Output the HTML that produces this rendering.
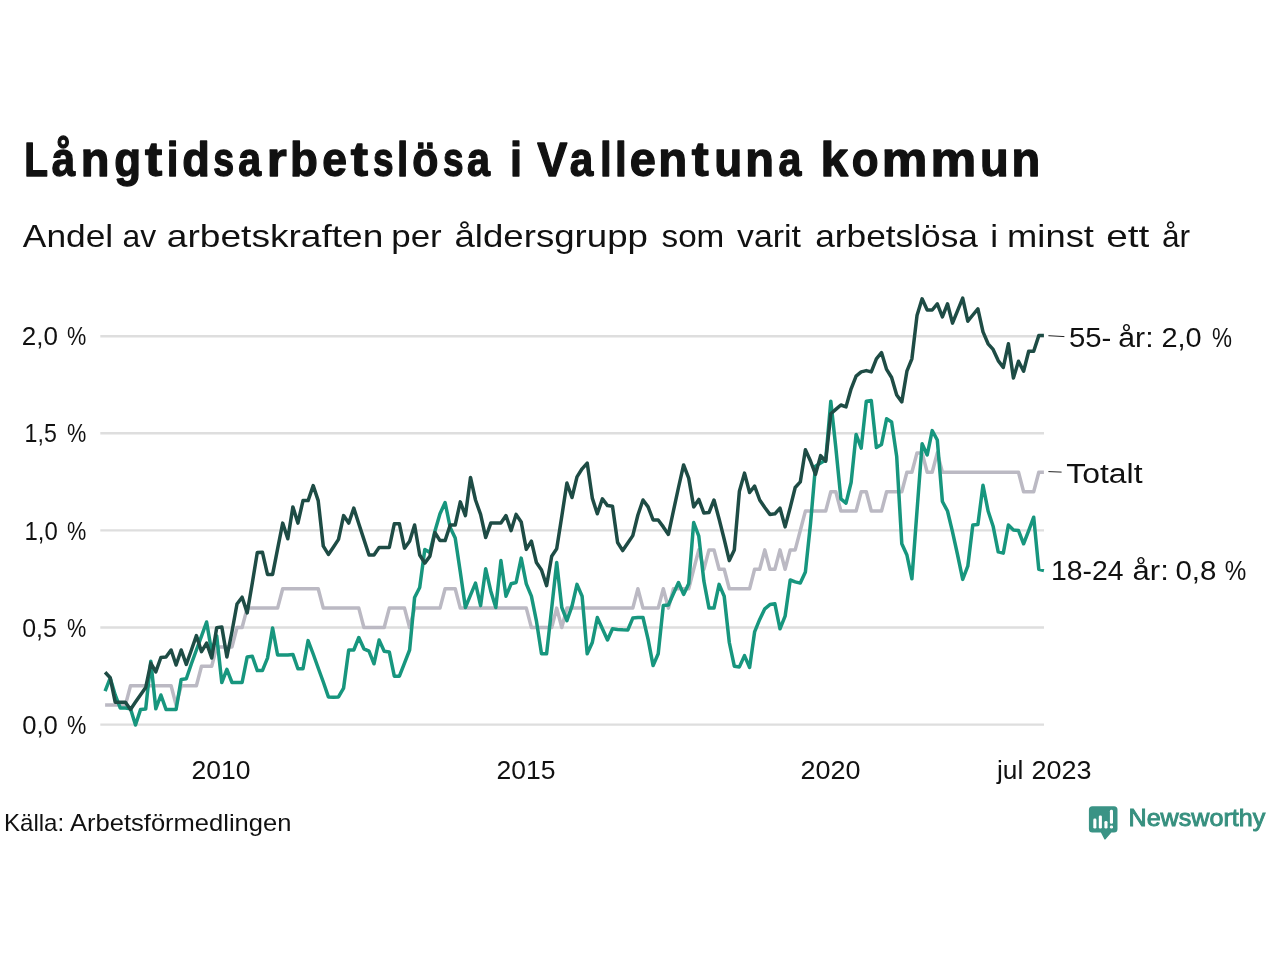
<!DOCTYPE html>
<html><head><meta charset="utf-8"><title>Chart</title>
<style>
html,body{margin:0;padding:0;background:#fff;}
body{width:1280px;height:960px;overflow:hidden;font-family:"Liberation Sans",sans-serif;}
svg{display:block;position:absolute;left:0;top:0;}
svg.t{will-change:transform;}
text{font-family:"Liberation Sans",sans-serif;fill:#111111;}
</style></head><body>
<svg width="1280" height="960" viewBox="0 0 1280 960">
<rect width="1280" height="960" fill="#ffffff"/>
<line x1="100.3" x2="1044" y1="336.3" y2="336.3" stroke="#dedede" stroke-width="2.4"/>
<line x1="100.3" x2="1044" y1="433.3" y2="433.3" stroke="#dedede" stroke-width="2.4"/>
<line x1="100.3" x2="1044" y1="530.4" y2="530.4" stroke="#dedede" stroke-width="2.4"/>
<line x1="100.3" x2="1044" y1="627.5" y2="627.5" stroke="#dedede" stroke-width="2.4"/>
<line x1="100.3" x2="1044" y1="724.6" y2="724.6" stroke="#dedede" stroke-width="2.4"/>
<path d="M105.1,705.1 L110.2,705.1 L115.2,705.1 L120.3,705.1 L125.4,705.1 L130.5,685.7 L135.5,685.7 L140.6,685.7 L145.7,685.7 L150.8,685.7 L155.8,685.7 L160.9,685.7 L166.0,685.7 L171.1,685.7 L176.1,705.1 L181.2,685.7 L186.3,685.7 L191.4,685.7 L196.4,685.7 L201.5,666.3 L206.6,666.3 L211.7,666.3 L216.7,646.9 L221.8,646.9 L226.9,646.9 L232.0,646.9 L237.0,627.5 L242.1,627.5 L247.2,608.1 L252.3,608.1 L257.3,608.1 L262.4,608.1 L267.5,608.1 L272.6,608.1 L277.6,608.1 L282.7,588.7 L287.8,588.7 L292.9,588.7 L297.9,588.7 L303.0,588.7 L308.1,588.7 L313.2,588.7 L318.2,588.7 L323.3,608.1 L328.4,608.1 L333.5,608.1 L338.5,608.1 L343.6,608.1 L348.7,608.1 L353.8,608.1 L358.8,608.1 L363.9,627.5 L369.0,627.5 L374.0,627.5 L379.1,627.5 L384.2,627.5 L389.3,608.1 L394.3,608.1 L399.4,608.1 L404.5,608.1 L409.6,627.5 L414.6,608.1 L419.7,608.1 L424.8,608.1 L429.9,608.1 L434.9,608.1 L440.0,608.1 L445.1,588.7 L450.2,588.7 L455.2,588.7 L460.3,608.1 L465.4,608.1 L470.5,608.1 L475.5,608.1 L480.6,608.1 L485.7,608.1 L490.8,608.1 L495.8,608.1 L500.9,608.1 L506.0,608.1 L511.1,608.1 L516.1,608.1 L521.2,608.1 L526.3,608.1 L531.4,627.5 L536.4,627.5 L541.5,627.5 L546.6,627.5 L551.7,627.5 L556.7,608.1 L561.8,627.5 L566.9,608.1 L572.0,608.1 L577.0,608.1 L582.1,608.1 L587.2,608.1 L592.3,608.1 L597.3,608.1 L602.4,608.1 L607.5,608.1 L612.5,608.1 L617.6,608.1 L622.7,608.1 L627.8,608.1 L632.8,608.1 L637.9,588.7 L643.0,608.1 L648.1,608.1 L653.1,608.1 L658.2,608.1 L663.3,588.7 L668.4,608.1 L673.4,588.7 L678.5,588.7 L683.6,588.7 L688.7,588.7 L693.7,569.3 L698.8,549.9 L703.9,569.3 L709.0,549.9 L714.0,549.9 L719.1,569.3 L724.2,569.3 L729.3,588.7 L734.3,588.7 L739.4,588.7 L744.5,588.7 L749.6,588.7 L754.6,569.3 L759.7,569.3 L764.8,549.9 L769.9,569.3 L774.9,569.3 L780.0,549.9 L785.1,569.3 L790.2,549.9 L795.2,549.9 L800.3,530.5 L805.4,511.1 L810.5,511.1 L815.5,511.1 L820.6,511.1 L825.7,511.1 L830.8,491.7 L835.8,491.7 L840.9,511.1 L846.0,511.1 L851.1,511.1 L856.1,511.1 L861.2,491.7 L866.3,491.7 L871.3,511.1 L876.4,511.1 L881.5,511.1 L886.6,491.7 L891.6,491.7 L896.7,491.7 L901.8,491.7 L906.9,472.3 L911.9,472.3 L917.0,452.9 L922.1,452.9 L927.2,472.3 L932.2,472.3 L937.3,452.9 L942.4,472.3 L947.5,472.3 L952.5,472.3 L957.6,472.3 L962.7,472.3 L967.8,472.3 L972.8,472.3 L977.9,472.3 L983.0,472.3 L988.1,472.3 L993.1,472.3 L998.2,472.3 L1003.3,472.3 L1008.4,472.3 L1013.4,472.3 L1018.5,472.3 L1023.6,491.7 L1028.7,491.7 L1033.7,491.7 L1038.8,472.3 L1043.9,472.3" fill="none" stroke="#bbb9c3" stroke-width="3.5" stroke-linejoin="round" stroke-linecap="butt"/>
<path d="M105.1,691.2 L110.2,678.1 L115.2,695.0 L120.3,708.1 L125.4,708.1 L130.5,708.8 L135.5,725.0 L140.6,709.4 L145.7,709.0 L150.8,661.2 L155.8,708.8 L160.9,695.0 L166.0,709.4 L171.1,709.4 L176.1,709.4 L181.2,679.4 L186.3,678.8 L191.4,663.8 L196.4,650.0 L201.5,636.2 L206.6,622.0 L211.7,652.0 L216.7,636.0 L221.8,682.5 L226.9,669.4 L232.0,682.5 L237.0,682.5 L242.1,682.5 L247.2,656.9 L252.3,656.2 L257.3,670.6 L262.4,670.6 L267.5,658.1 L272.6,628.1 L277.6,655.0 L282.7,655.0 L287.8,655.0 L292.9,654.4 L297.9,668.8 L303.0,668.8 L308.1,640.6 L313.2,654.0 L318.2,668.0 L323.3,682.0 L328.4,696.9 L333.5,697.2 L338.5,696.9 L343.6,688.1 L348.7,650.0 L353.8,650.0 L358.8,637.5 L363.9,648.8 L369.0,651.2 L374.0,663.8 L379.1,640.0 L384.2,651.2 L389.3,651.9 L394.3,676.2 L399.4,676.2 L404.5,663.1 L409.6,650.0 L414.6,597.5 L419.7,587.5 L424.8,549.4 L429.9,552.5 L434.9,531.2 L440.0,513.8 L445.1,502.5 L450.2,527.5 L455.2,538.1 L460.3,572.0 L465.4,607.5 L470.5,595.2 L475.5,583.1 L480.6,605.6 L485.7,568.8 L490.8,591.2 L495.8,607.5 L500.9,560.6 L506.0,596.2 L511.1,583.8 L516.1,582.5 L521.2,558.1 L526.3,583.8 L531.4,596.2 L536.4,620.8 L541.5,653.8 L546.6,653.8 L551.7,608.1 L556.7,562.5 L561.8,607.5 L566.9,620.6 L572.0,606.2 L577.0,584.4 L582.1,596.2 L587.2,653.8 L592.3,642.5 L597.3,617.5 L602.4,628.8 L607.5,640.0 L612.5,628.8 L617.6,629.4 L622.7,629.8 L627.8,630.0 L632.8,618.1 L637.9,617.5 L643.0,617.5 L648.1,639.4 L653.1,665.6 L658.2,653.8 L663.3,605.6 L668.4,605.0 L673.4,593.8 L678.5,582.5 L683.6,594.4 L688.7,583.8 L693.7,522.5 L698.8,536.2 L703.9,581.2 L709.0,608.1 L714.0,608.1 L719.1,584.4 L724.2,596.2 L729.3,642.5 L734.3,666.2 L739.4,666.9 L744.5,655.6 L749.6,667.5 L754.6,631.9 L759.7,619.4 L764.8,608.8 L769.9,604.6 L774.9,603.8 L780.0,628.8 L785.1,616.2 L790.2,580.0 L795.2,581.9 L800.3,583.1 L805.4,571.9 L810.5,523.8 L815.5,466.2 L820.6,463.1 L825.7,460.0 L830.8,401.2 L835.8,447.5 L840.9,498.8 L846.0,503.1 L851.1,482.5 L856.1,434.4 L861.2,448.1 L866.3,401.2 L871.3,400.6 L876.4,447.5 L881.5,444.4 L886.6,418.8 L891.6,421.9 L896.7,456.5 L901.8,543.8 L906.9,555.0 L911.9,578.8 L917.0,511.0 L922.1,443.8 L927.2,455.0 L932.2,430.6 L937.3,440.0 L942.4,501.5 L947.5,511.0 L952.5,531.9 L957.6,555.0 L962.7,579.4 L967.8,566.2 L972.8,525.0 L977.9,524.4 L983.0,485.3 L988.1,511.0 L993.1,526.2 L998.2,551.9 L1003.3,553.1 L1008.4,525.0 L1013.4,530.0 L1018.5,530.6 L1023.6,543.8 L1028.7,530.6 L1033.7,517.2 L1038.8,569.4 L1043.9,570.6" fill="none" stroke="#17967e" stroke-width="3.5" stroke-linejoin="round" stroke-linecap="butt"/>
<path d="M105.1,672.2 L110.2,677.8 L115.2,702.2 L120.3,702.2 L125.4,702.2 L130.5,709.4 L135.5,702.1 L140.6,694.8 L145.7,687.5 L150.8,663.1 L155.8,671.9 L160.9,657.5 L166.0,657.1 L171.1,650.0 L176.1,665.0 L181.2,650.0 L186.3,664.4 L191.4,650.0 L196.4,635.6 L201.5,651.7 L206.6,643.1 L211.7,658.0 L216.7,627.8 L221.8,626.9 L226.9,657.0 L232.0,631.5 L237.0,604.0 L242.1,597.2 L247.2,612.9 L252.3,583.0 L257.3,552.5 L262.4,552.2 L267.5,574.4 L272.6,574.4 L277.6,548.8 L282.7,523.1 L287.8,538.8 L292.9,506.9 L297.9,523.1 L303.0,500.6 L308.1,500.6 L313.2,485.6 L318.2,500.6 L323.3,546.2 L328.4,554.4 L333.5,546.9 L338.5,539.4 L343.6,515.6 L348.7,523.1 L353.8,508.1 L358.8,523.8 L363.9,539.4 L369.0,555.0 L374.0,555.0 L379.1,547.5 L384.2,547.5 L389.3,547.5 L394.3,523.8 L399.4,523.8 L404.5,548.1 L409.6,541.2 L414.6,525.0 L419.7,555.0 L424.8,563.1 L429.9,556.2 L434.9,532.5 L440.0,540.6 L445.1,540.6 L450.2,525.0 L455.2,525.0 L460.3,501.9 L465.4,515.6 L470.5,477.5 L475.5,500.0 L480.6,514.4 L485.7,537.5 L490.8,523.1 L495.8,523.1 L500.9,523.1 L506.0,515.6 L511.1,530.6 L516.1,514.4 L521.2,521.9 L526.3,549.4 L531.4,541.2 L536.4,562.5 L541.5,570.0 L546.6,585.6 L551.7,556.2 L556.7,548.8 L561.8,516.2 L566.9,483.1 L572.0,497.5 L577.0,476.9 L582.1,468.8 L587.2,463.1 L592.3,498.1 L597.3,513.8 L602.4,498.8 L607.5,505.6 L612.5,506.2 L617.6,542.5 L622.7,550.6 L627.8,543.1 L632.8,535.6 L637.9,515.0 L643.0,500.0 L648.1,506.9 L653.1,520.0 L658.2,520.0 L663.3,526.9 L668.4,534.4 L673.4,511.0 L678.5,487.5 L683.6,465.0 L688.7,478.1 L693.7,506.9 L698.8,499.4 L703.9,513.1 L709.0,512.5 L714.0,500.0 L719.1,519.0 L724.2,539.2 L729.3,560.6 L734.3,550.0 L739.4,491.2 L744.5,473.1 L749.6,492.5 L754.6,486.2 L759.7,500.0 L764.8,507.5 L769.9,514.4 L774.9,513.8 L780.0,508.1 L785.1,526.9 L790.2,507.6 L795.2,487.5 L800.3,481.9 L805.4,449.7 L810.5,461.0 L815.5,474.4 L820.6,455.6 L825.7,461.2 L830.8,413.8 L835.8,409.4 L840.9,405.0 L846.0,406.9 L851.1,388.8 L856.1,376.2 L861.2,371.9 L866.3,370.6 L871.3,371.9 L876.4,358.8 L881.5,352.5 L886.6,369.4 L891.6,377.5 L896.7,395.0 L901.8,401.9 L906.9,371.2 L911.9,358.8 L917.0,315.6 L922.1,298.8 L927.2,310.0 L932.2,310.0 L937.3,303.8 L942.4,316.9 L947.5,303.8 L952.5,323.1 L957.6,310.6 L962.7,298.1 L967.8,321.2 L972.8,315.0 L977.9,308.8 L983.0,331.9 L988.1,343.8 L993.1,349.4 L998.2,360.6 L1003.3,367.5 L1008.4,343.8 L1013.4,378.1 L1018.5,361.2 L1023.6,371.2 L1028.7,351.2 L1033.7,351.2 L1038.8,335.6 L1043.9,335.6" fill="none" stroke="#1e4c45" stroke-width="3.5" stroke-linejoin="round" stroke-linecap="butt"/>
<line x1="1048.4" y1="335.7" x2="1064.4" y2="336.6" stroke="#222" stroke-width="1"/>
<line x1="1048.4" y1="471.6" x2="1061.6" y2="472.1" stroke="#222" stroke-width="1"/>
</svg>
<svg class="t" width="1280" height="960" viewBox="0 0 1280 960">
<g>
<text x="24.20" y="176.4" font-size="47.6" font-weight="bold" stroke="#111111" stroke-width="1.3" stroke-linejoin="round" textLength="23.78" lengthAdjust="spacingAndGlyphs">L</text>
<text x="51.66" y="176.4" font-size="47.6" font-weight="bold" stroke="#111111" stroke-width="1.3" stroke-linejoin="round" textLength="23.47" lengthAdjust="spacingAndGlyphs">å</text>
<text x="80.79" y="176.4" font-size="47.6" font-weight="bold" stroke="#111111" stroke-width="1.3" stroke-linejoin="round" textLength="28.71" lengthAdjust="spacingAndGlyphs">n</text>
<text x="114.13" y="176.4" font-size="47.6" font-weight="bold" stroke="#111111" stroke-width="1.3" stroke-linejoin="round" textLength="26.80" lengthAdjust="spacingAndGlyphs">g</text>
<text x="145.05" y="176.4" font-size="47.6" font-weight="bold" stroke="#111111" stroke-width="1.3" stroke-linejoin="round" textLength="17.24" lengthAdjust="spacingAndGlyphs">t</text>
<text x="166.74" y="176.4" font-size="47.6" font-weight="bold" stroke="#111111" stroke-width="1.3" stroke-linejoin="round" textLength="11.71" lengthAdjust="spacingAndGlyphs">i</text>
<text x="182.20" y="176.4" font-size="47.6" font-weight="bold" stroke="#111111" stroke-width="1.3" stroke-linejoin="round" textLength="27.56" lengthAdjust="spacingAndGlyphs">d</text>
<text x="213.36" y="176.4" font-size="47.6" font-weight="bold" stroke="#111111" stroke-width="1.3" stroke-linejoin="round" textLength="20.90" lengthAdjust="spacingAndGlyphs">s</text>
<text x="238.29" y="176.4" font-size="47.6" font-weight="bold" stroke="#111111" stroke-width="1.3" stroke-linejoin="round" textLength="22.86" lengthAdjust="spacingAndGlyphs">a</text>
<text x="266.81" y="176.4" font-size="47.6" font-weight="bold" stroke="#111111" stroke-width="1.3" stroke-linejoin="round" textLength="20.00" lengthAdjust="spacingAndGlyphs">r</text>
<text x="290.03" y="176.4" font-size="47.6" font-weight="bold" stroke="#111111" stroke-width="1.3" stroke-linejoin="round" textLength="27.85" lengthAdjust="spacingAndGlyphs">b</text>
<text x="322.21" y="176.4" font-size="47.6" font-weight="bold" stroke="#111111" stroke-width="1.3" stroke-linejoin="round" textLength="24.76" lengthAdjust="spacingAndGlyphs">e</text>
<text x="350.65" y="176.4" font-size="47.6" font-weight="bold" stroke="#111111" stroke-width="1.3" stroke-linejoin="round" textLength="17.29" lengthAdjust="spacingAndGlyphs">t</text>
<text x="372.97" y="176.4" font-size="47.6" font-weight="bold" stroke="#111111" stroke-width="1.3" stroke-linejoin="round" textLength="20.62" lengthAdjust="spacingAndGlyphs">s</text>
<text x="397.10" y="176.4" font-size="47.6" font-weight="bold" stroke="#111111" stroke-width="1.3" stroke-linejoin="round" textLength="11.24" lengthAdjust="spacingAndGlyphs">l</text>
<text x="412.25" y="176.4" font-size="47.6" font-weight="bold" stroke="#111111" stroke-width="1.3" stroke-linejoin="round" textLength="26.16" lengthAdjust="spacingAndGlyphs">ö</text>
<text x="442.97" y="176.4" font-size="47.6" font-weight="bold" stroke="#111111" stroke-width="1.3" stroke-linejoin="round" textLength="20.62" lengthAdjust="spacingAndGlyphs">s</text>
<text x="467.08" y="176.4" font-size="47.6" font-weight="bold" stroke="#111111" stroke-width="1.3" stroke-linejoin="round" textLength="23.01" lengthAdjust="spacingAndGlyphs">a</text>
<text x="509.88" y="176.4" font-size="47.6" font-weight="bold" stroke="#111111" stroke-width="1.3" stroke-linejoin="round" textLength="12.00" lengthAdjust="spacingAndGlyphs">i</text>
<text x="537.15" y="176.4" font-size="47.6" font-weight="bold" stroke="#111111" stroke-width="1.3" stroke-linejoin="round" textLength="30.06" lengthAdjust="spacingAndGlyphs">V</text>
<text x="569.76" y="176.4" font-size="47.6" font-weight="bold" stroke="#111111" stroke-width="1.3" stroke-linejoin="round" textLength="23.52" lengthAdjust="spacingAndGlyphs">a</text>
<text x="599.89" y="176.4" font-size="47.6" font-weight="bold" stroke="#111111" stroke-width="1.3" stroke-linejoin="round" textLength="11.71" lengthAdjust="spacingAndGlyphs">l</text>
<text x="614.89" y="176.4" font-size="47.6" font-weight="bold" stroke="#111111" stroke-width="1.3" stroke-linejoin="round" textLength="11.71" lengthAdjust="spacingAndGlyphs">l</text>
<text x="629.66" y="176.4" font-size="47.6" font-weight="bold" stroke="#111111" stroke-width="1.3" stroke-linejoin="round" textLength="26.14" lengthAdjust="spacingAndGlyphs">e</text>
<text x="658.26" y="176.4" font-size="47.6" font-weight="bold" stroke="#111111" stroke-width="1.3" stroke-linejoin="round" textLength="28.95" lengthAdjust="spacingAndGlyphs">n</text>
<text x="691.65" y="176.4" font-size="47.6" font-weight="bold" stroke="#111111" stroke-width="1.3" stroke-linejoin="round" textLength="16.94" lengthAdjust="spacingAndGlyphs">t</text>
<text x="714.33" y="176.4" font-size="47.6" font-weight="bold" stroke="#111111" stroke-width="1.3" stroke-linejoin="round" textLength="27.98" lengthAdjust="spacingAndGlyphs">u</text>
<text x="745.19" y="176.4" font-size="47.6" font-weight="bold" stroke="#111111" stroke-width="1.3" stroke-linejoin="round" textLength="28.71" lengthAdjust="spacingAndGlyphs">n</text>
<text x="778.54" y="176.4" font-size="47.6" font-weight="bold" stroke="#111111" stroke-width="1.3" stroke-linejoin="round" textLength="22.86" lengthAdjust="spacingAndGlyphs">a</text>
<text x="820.62" y="176.4" font-size="47.6" font-weight="bold" stroke="#111111" stroke-width="1.3" stroke-linejoin="round" textLength="27.57" lengthAdjust="spacingAndGlyphs">k</text>
<text x="851.63" y="176.4" font-size="47.6" font-weight="bold" stroke="#111111" stroke-width="1.3" stroke-linejoin="round" textLength="26.81" lengthAdjust="spacingAndGlyphs">o</text>
<text x="881.81" y="176.4" font-size="47.6" font-weight="bold" stroke="#111111" stroke-width="1.3" stroke-linejoin="round" textLength="45.64" lengthAdjust="spacingAndGlyphs">m</text>
<text x="930.51" y="176.4" font-size="47.6" font-weight="bold" stroke="#111111" stroke-width="1.3" stroke-linejoin="round" textLength="45.75" lengthAdjust="spacingAndGlyphs">m</text>
<text x="979.92" y="176.4" font-size="47.6" font-weight="bold" stroke="#111111" stroke-width="1.3" stroke-linejoin="round" textLength="28.71" lengthAdjust="spacingAndGlyphs">u</text>
<text x="1011.44" y="176.4" font-size="47.6" font-weight="bold" stroke="#111111" stroke-width="1.3" stroke-linejoin="round" textLength="28.71" lengthAdjust="spacingAndGlyphs">n</text>
<text x="22.80" y="247" font-size="32" textLength="90.43" lengthAdjust="spacingAndGlyphs">Andel</text>
<text x="122.61" y="247" font-size="32" textLength="33.59" lengthAdjust="spacingAndGlyphs">av</text>
<text x="166.84" y="247" font-size="32" textLength="216.54" lengthAdjust="spacingAndGlyphs">arbetskraften</text>
<text x="391.22" y="247" font-size="32" textLength="50.51" lengthAdjust="spacingAndGlyphs">per</text>
<text x="454.46" y="247" font-size="32" textLength="193.46" lengthAdjust="spacingAndGlyphs">åldersgrupp</text>
<text x="661.50" y="247" font-size="32" textLength="62.82" lengthAdjust="spacingAndGlyphs">som</text>
<text x="737.00" y="247" font-size="32" textLength="63.78" lengthAdjust="spacingAndGlyphs">varit</text>
<text x="815.20" y="247" font-size="32" textLength="162.78" lengthAdjust="spacingAndGlyphs">arbetslösa</text>
<text x="990.30" y="247" font-size="32" textLength="7.82" lengthAdjust="spacingAndGlyphs">i</text>
<text x="1007.13" y="247" font-size="32" textLength="86.75" lengthAdjust="spacingAndGlyphs">minst</text>
<text x="1106.29" y="247" font-size="32" textLength="43.08" lengthAdjust="spacingAndGlyphs">ett</text>
<text x="1162.01" y="247" font-size="32" textLength="28.15" lengthAdjust="spacingAndGlyphs">år</text>
<text x="21.74" y="345.40000000000003" font-size="25.8" textLength="36.11" lengthAdjust="spacingAndGlyphs">2,0</text>
<text x="66.90" y="345.40000000000003" font-size="25.8" textLength="19.30" lengthAdjust="spacingAndGlyphs">%</text>
<text x="24.60" y="442.40000000000003" font-size="25.8" textLength="32.21" lengthAdjust="spacingAndGlyphs">1,5</text>
<text x="66.90" y="442.40000000000003" font-size="25.8" textLength="19.30" lengthAdjust="spacingAndGlyphs">%</text>
<text x="24.57" y="539.5" font-size="25.8" textLength="33.25" lengthAdjust="spacingAndGlyphs">1,0</text>
<text x="66.90" y="539.5" font-size="25.8" textLength="19.30" lengthAdjust="spacingAndGlyphs">%</text>
<text x="22.24" y="636.6" font-size="25.8" textLength="34.60" lengthAdjust="spacingAndGlyphs">0,5</text>
<text x="66.90" y="636.6" font-size="25.8" textLength="19.30" lengthAdjust="spacingAndGlyphs">%</text>
<text x="22.21" y="733.7" font-size="25.8" textLength="35.64" lengthAdjust="spacingAndGlyphs">0,0</text>
<text x="66.90" y="733.7" font-size="25.8" textLength="19.30" lengthAdjust="spacingAndGlyphs">%</text>
<text x="1068.91" y="346.9" font-size="27" textLength="42.47" lengthAdjust="spacingAndGlyphs">55-</text>
<text x="1118.28" y="346.9" font-size="27" textLength="35.30" lengthAdjust="spacingAndGlyphs">år:</text>
<text x="1161.43" y="346.9" font-size="27" textLength="40.26" lengthAdjust="spacingAndGlyphs">2,0</text>
<text x="1211.90" y="346.9" font-size="27" textLength="20.01" lengthAdjust="spacingAndGlyphs">%</text>
<text x="1066.25" y="483.1" font-size="27" textLength="76.26" lengthAdjust="spacingAndGlyphs">Totalt</text>
<text x="1051.00" y="579.7" font-size="27" textLength="72.41" lengthAdjust="spacingAndGlyphs">18-24</text>
<text x="1132.60" y="579.7" font-size="27" textLength="36.23" lengthAdjust="spacingAndGlyphs">år:</text>
<text x="1175.41" y="579.7" font-size="27" textLength="41.00" lengthAdjust="spacingAndGlyphs">0,8</text>
<text x="1224.70" y="579.7" font-size="27" textLength="21.56" lengthAdjust="spacingAndGlyphs">%</text>
<text x="191.48" y="778.5" font-size="26" textLength="58.99" lengthAdjust="spacingAndGlyphs">2010</text>
<text x="496.48" y="778.5" font-size="26" textLength="58.99" lengthAdjust="spacingAndGlyphs">2015</text>
<text x="800.46" y="778.5" font-size="26" textLength="60.01" lengthAdjust="spacingAndGlyphs">2020</text>
<text x="997.01" y="778.5" font-size="26" textLength="26.27" lengthAdjust="spacingAndGlyphs">jul</text>
<text x="1031.46" y="778.5" font-size="26" textLength="60.01" lengthAdjust="spacingAndGlyphs">2023</text>
<text x="4.00" y="831" font-size="24" textLength="60.17" lengthAdjust="spacingAndGlyphs">Källa:</text>
<text x="70.00" y="831" font-size="24" textLength="221.43" lengthAdjust="spacingAndGlyphs">Arbetsförmedlingen</text>
<text x="1128.53" y="826.2" font-size="23.4" style="fill:#37907f;stroke:#37907f;stroke-width:0.9" textLength="136.75" lengthAdjust="spacingAndGlyphs">Newsworthy</text>
</g>
<g>
<path d="M1092.4,806.3 h21.6 a3.5,3.5 0 0 1 3.5,3.5 v19.1 a3.5,3.5 0 0 1 -3.5,3.5 h-2.6 l-5.6,6.6 a1,1 0 0 1 -1.7,-0.3 l-3.2,-6.3 h-8.5 a3.5,3.5 0 0 1 -3.5,-3.5 v-19.1 a3.5,3.5 0 0 1 3.5,-3.5 z" fill="#3a9385"/>
<rect x="1093.3" y="818.6" width="3.1" height="10" rx="1.4" fill="#fff"/>
<rect x="1098.8" y="815.4" width="3.1" height="13.2" rx="1.4" fill="#fff"/>
<rect x="1104.4" y="820.9" width="3.1" height="7.7" rx="1.4" fill="#fff"/>
<rect x="1109.9" y="809.8" width="3.1" height="14" rx="1.4" fill="#fff"/>
<rect x="1109.9" y="825.4" width="3.1" height="3.2" rx="1.4" fill="#fff"/>
</g>
</svg></body></html>
